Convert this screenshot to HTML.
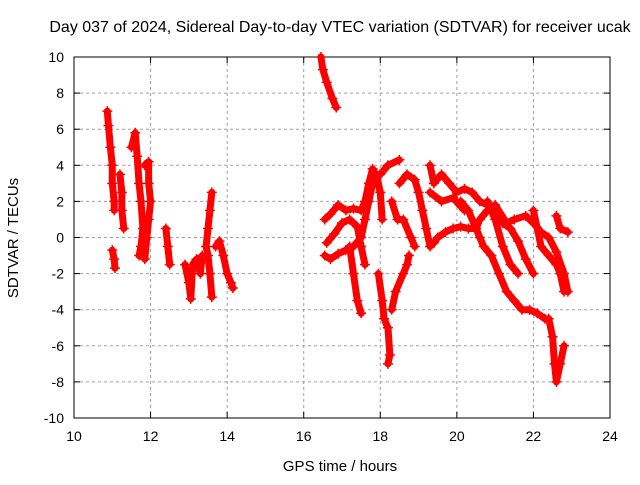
<!DOCTYPE html>
<html><head><meta charset="utf-8"><style>
body{margin:0;background:#fff;}
svg text{font-family:"Liberation Sans",sans-serif;font-size:14px;fill:#000;}
</style></head><body>
<svg id="chart" width="640" height="480" xmlns="http://www.w3.org/2000/svg">
<rect width="640" height="480" fill="#fff"/>
<g id="grid"></g>
<g id="axes"></g>
<g id="marks"></g>
<text x="340" y="32" text-anchor="middle" style="font-size:16px">Day 037 of 2024, Sidereal Day-to-day VTEC variation (SDTVAR) for receiver ucak</text>
<text x="340" y="471" text-anchor="middle" style="font-size:15px">GPS time / hours</text>
<text transform="translate(18,238) rotate(-90)" text-anchor="middle" style="font-size:15px">SDTVAR / TECUs</text>
</svg>
<script>
const xTicks=[10,12,14,16,18,20,22,24];
const yTicks=[-10,-8,-6,-4,-2,0,2,4,6,8,10];
const trackT1=[[10.87,7],[10.9,6.2],[10.95,5],[11.0,4],[11.0,3],[11.05,2],[11.05,1.5]];
const trackT1b=[[11.0,-0.7],[11.05,-1.2],[11.07,-1.7]];
const trackT2=[[11.2,3.5],[11.25,2.5],[11.25,1.5],[11.3,0.5]];
const trackT3=[[11.5,5],[11.6,5.8],[11.65,4.5],[11.7,3],[11.75,2],[11.8,0.5],[11.75,-0.5],[11.7,-1]];
const trackT4=[[11.85,4],[11.95,4.2],[11.95,3],[12.0,2],[11.95,1],[11.9,0],[11.85,-1.2]];
const trackT5=[[12.4,0.5],[12.45,-0.5],[12.5,-1.5]];
const trackT6=[[12.9,-1.5],[13.0,-2.5],[13.05,-3.4],[13.1,-1.5],[13.2,-1.2],[13.3,-2],[13.35,-1]];
const trackT7=[[13.6,2.5],[13.55,1.5],[13.5,0.5],[13.45,-0.5],[13.5,-1],[13.55,-2],[13.6,-3.3]];
const trackT8=[[13.7,-0.5],[13.8,-0.2],[13.9,-1],[14.0,-2],[14.1,-2.5],[14.15,-2.8]];
const trackT9=[[16.45,10],[16.5,9.3],[16.6,8.6],[16.75,7.7],[16.85,7.2]];
const trackA=[[16.55,1],[16.7,1.3],[16.9,1.8],[17.1,1.5],[17.3,1.6],[17.5,1.5],[17.6,2],[17.7,3],[17.8,3.8],[17.9,3.3],[18.0,2.5]];
const trackB=[[16.55,-1],[16.7,-1.2],[16.9,-0.9],[17.1,-0.7],[17.3,-0.5],[17.5,0],[17.6,1],[17.7,2],[17.8,3],[17.9,3.5],[18.0,2.5],[18.05,1]];
const trackB2=[[16.6,-0.3],[16.8,0.2],[17.0,0.8],[17.2,1.0],[17.4,0.6],[17.5,-0.5],[17.6,-1.5]];
const trackC=[[17.2,-0.5],[17.3,-2],[17.4,-3.5],[17.5,-4.2]];
const trackD=[[17.95,-2],[18.05,-3.5],[18.1,-4.5],[18.2,-5],[18.25,-6.5],[18.2,-7]];
const trackE=[[18.3,-4],[18.4,-3],[18.6,-2],[18.7,-1.5],[18.75,-1]];
const trackF=[[18.0,3.5],[18.2,4],[18.5,4.3]];
const trackG=[[18.5,3],[18.7,3.5],[18.9,3.2],[19.0,2.5],[19.1,1.5],[19.2,0.5],[19.3,-0.5]];
const trackG2=[[18.3,2],[18.45,1],[18.6,1],[18.8,0],[18.9,-0.5]];
const trackH=[[19.3,4],[19.4,3],[19.6,3.5],[19.8,3],[20.0,2.5],[20.2,2.7],[20.4,2.5],[20.6,2],[20.8,1.8],[21.0,1.5],[21.2,0.8],[21.4,0.5],[21.6,-0.2],[21.8,-1.2],[22.0,-2]];
const trackI=[[19.4,-0.3],[19.5,0],[19.7,0.3],[19.9,0.5],[20.1,0.6],[20.3,0.5],[20.5,0.5],[20.6,1],[20.8,1.5],[21.0,1.8],[21.3,0.8],[21.5,1],[21.8,1.2],[22.0,0.8],[22.2,0.3],[22.4,0],[22.6,-0.8],[22.8,-2],[22.9,-3]];
const trackJ=[[20.1,2],[20.3,1.5],[20.5,0.5],[20.6,0],[20.7,-0.5],[20.9,-1],[21.1,-2],[21.3,-3],[21.5,-3.5],[21.7,-4],[21.9,-4],[22.1,-4.2],[22.3,-4.5],[22.4,-4.5],[22.5,-5.5],[22.55,-7],[22.6,-8],[22.7,-7],[22.8,-6]];
const trackK=[[20.8,2],[21.0,1],[21.2,-0.5],[21.4,-1.5],[21.6,-2]];
const trackL=[[22.0,1.5],[22.2,-0.5],[22.4,-1],[22.6,-1.5],[22.7,-2],[22.8,-3]];
const trackL2=[[22.6,1.2],[22.7,0.5],[22.9,0.3]];
const trackM=[[19.3,2.5],[19.6,2],[19.9,2.2],[20.2,1.5]];
const tracks=[trackT1,trackT1b,trackT2,trackT3,trackT4,trackT5,trackT6,trackT7,trackT8,trackT9,trackA,trackB,trackB2,trackC,trackD,trackE,trackF,trackG,trackG2,trackH,trackI,trackJ,trackK,trackL,trackL2,trackM];

const NS='http://www.w3.org/2000/svg';
const X0=74,X1=610,Y0=418,Y1=57;
function xs(t){return X0+(t-10)/14*(X1-X0);}
function ys(v){return Y0-(v+10)/20*(Y0-Y1);}
function mk(tag,attrs,parent){const e=document.createElementNS(NS,tag);for(const k in attrs)e.setAttribute(k,attrs[k]);parent.appendChild(e);return e;}
const grid=document.getElementById('grid'),axes=document.getElementById('axes'),marks=document.getElementById('marks');
xTicks.forEach(t=>{
  const x=xs(t);
  if(t>10&&t<24){const g=mk('line',{x1:x,x2:x,y1:Y1,y2:Y0,stroke:'#a0a0a0','stroke-dasharray':'3,3'},grid);
  
  }
  mk('line',{x1:x,x2:x,y1:Y0,y2:Y0-6,stroke:'#000'},axes);
  mk('line',{x1:x,x2:x,y1:Y1,y2:Y1+6,stroke:'#000'},axes);
  const lb=mk('text',{x:x,y:Y0+23,'text-anchor':'middle'},axes);lb.textContent=t;
  
  
});
yTicks.forEach(v=>{
  const y=ys(v);
  if(v>-10&&v<10){const g=mk('line',{x1:X0,x2:X1,y1:y,y2:y,stroke:'#a0a0a0','stroke-dasharray':'3,3'},grid);
  
  }
  mk('line',{x1:X0,x2:X0+6,y1:y,y2:y,stroke:'#000'},axes);
  mk('line',{x1:X1,x2:X1-6,y1:y,y2:y,stroke:'#000'},axes);
  const lb=mk('text',{x:X0-10,y:y+5,'text-anchor':'end'},axes);lb.textContent=v;
  
  
});
const frame=mk('rect',{x:X0,y:Y1,width:X1-X0,height:Y0-Y1,fill:'none',stroke:'#000'},axes);


tracks.forEach(tr=>{
  const pl=mk('polyline',{points:tr.map(p=>xs(p[0])+','+ys(p[1])).join(' '),fill:'none',stroke:'#f00','stroke-width':7,'stroke-linejoin':'round','stroke-linecap':'round'},marks);
  
  
  tr.forEach(p=>{
    const x=xs(p[0]),y=ys(p[1]);
    const m=mk('path',{d:`M${x-5},${y}H${x+5}M${x},${y-5}V${y+5}`,stroke:'#f00','stroke-width':1.5},marks);
    
    
  });
});
</script>
</body></html>
